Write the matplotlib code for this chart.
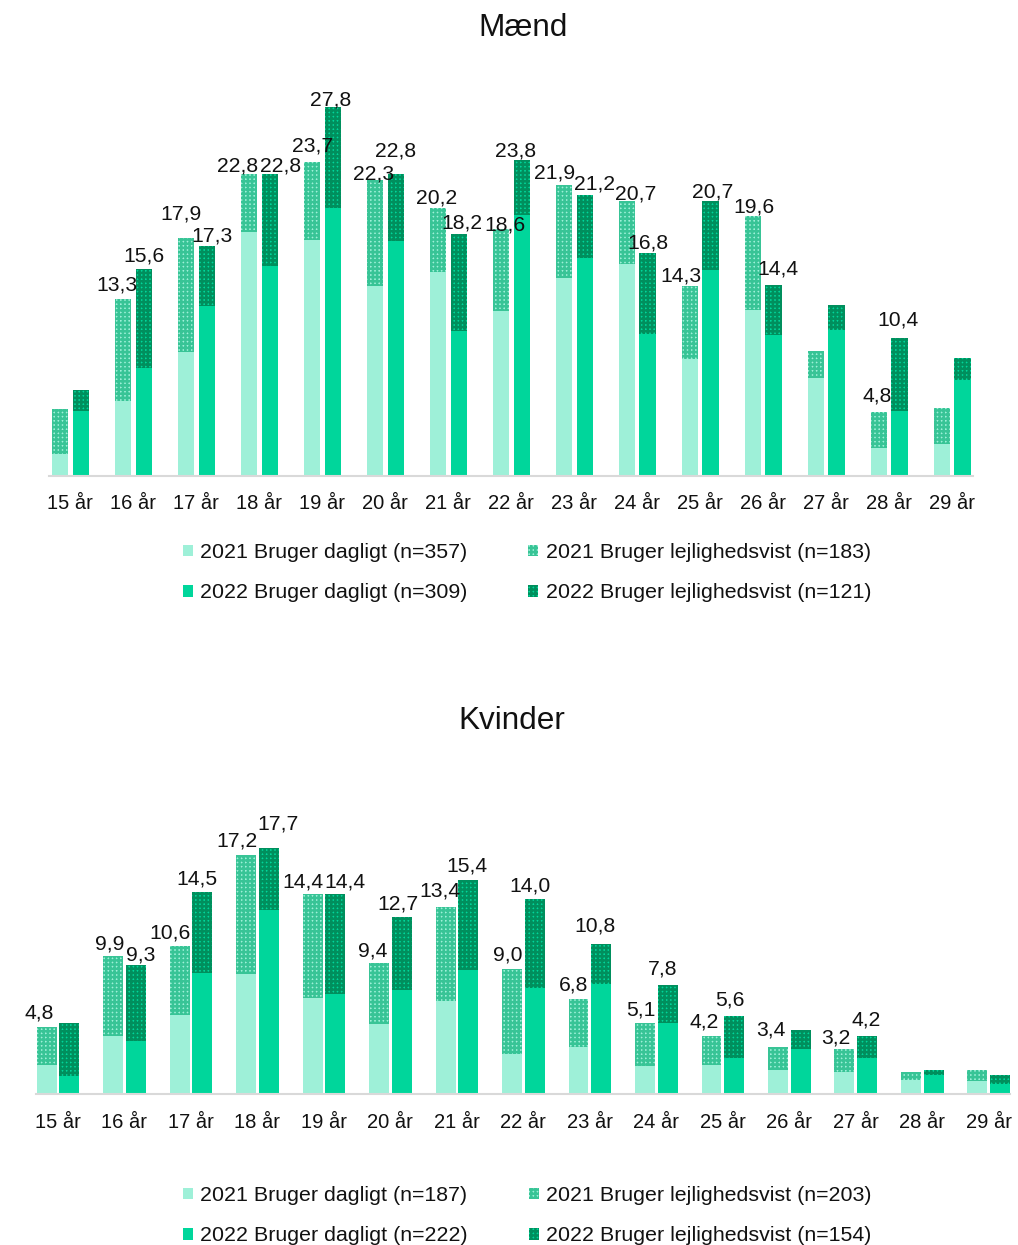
import matplotlib
matplotlib.use('Agg')
import matplotlib.pyplot as plt
import numpy as np

plt.rcParams['font.family'] = ['Liberation Sans', 'DejaVu Sans']
plt.rcParams['hatch.linewidth'] = 1.8

ages = ["15 år", "16 år", "17 år", "18 år", "19 år", "20 år", "21 år", "22 år",
        "23 år", "24 år", "25 år", "26 år", "27 år", "28 år", "29 år"]

# Mænd
m21_daily = [1.6, 5.6, 9.3, 18.4, 17.8, 14.3, 15.4, 12.4, 14.9, 16.0, 8.8, 12.5, 7.4, 2.1, 2.4]
m21_occ   = [3.4, 7.7, 8.6, 4.4, 5.9, 8.0, 4.8, 6.2, 7.0, 4.7, 5.5, 7.1, 2.0, 2.7, 2.7]
m22_daily = [4.9, 8.1, 12.8, 15.8, 20.2, 17.7, 10.9, 19.7, 16.4, 10.7, 15.5, 10.6, 11.0, 4.9, 7.2]
m22_occ   = [1.6, 7.5, 4.5, 7.0, 7.6, 5.1, 7.3, 4.1, 4.8, 6.1, 5.2, 3.8, 1.9, 5.5, 1.7]
m21_show  = [0, 1, 1, 1, 1, 1, 1, 1, 1, 1, 1, 1, 0, 1, 0]
m22_show  = [0, 1, 1, 1, 1, 1, 1, 1, 1, 1, 1, 1, 0, 1, 0]
m_legend = ["2021 Bruger dagligt (n=357)", "2021 Bruger lejlighedsvist (n=183)",
            "2022 Bruger dagligt (n=309)", "2022 Bruger lejlighedsvist (n=121)"]

# Kvinder
k21_daily = [2.1, 4.2, 5.7, 8.6, 6.9, 5.0, 6.7, 2.9, 3.4, 2.0, 2.1, 1.7, 1.6, 1.0, 0.9]
k21_occ   = [2.7, 5.7, 4.9, 8.6, 7.5, 4.4, 6.7, 6.1, 3.4, 3.1, 2.1, 1.7, 1.6, 0.6, 0.8]
k22_daily = [1.3, 3.8, 8.7, 13.2, 7.2, 7.5, 8.9, 7.6, 7.9, 5.1, 2.6, 3.2, 2.6, 1.4, 0.7]
k22_occ   = [3.8, 5.5, 5.8, 4.5, 7.2, 5.2, 6.5, 6.4, 2.9, 2.7, 3.0, 1.4, 1.6, 0.3, 0.7]
k21_show  = [1, 1, 1, 1, 1, 1, 1, 1, 1, 1, 1, 1, 1, 0, 0]
k22_show  = [0, 1, 1, 1, 1, 1, 1, 1, 1, 1, 1, 0, 1, 0, 0]
k_legend = ["2021 Bruger dagligt (n=187)", "2021 Bruger lejlighedsvist (n=203)",
            "2022 Bruger dagligt (n=222)", "2022 Bruger lejlighedsvist (n=154)"]

# label placement nudges (pixels): horizontal shift and gap above bar top
m21_dx  = [0, -6, -5, -11, 1, -1, -1, 4, -9, 9, -9, 1, 0, -2, 0]
m21_gap = [0, 8, 18, 1, 9, 0, 3, -2, 6, 1, 4, 2, 0, 10, 0]
m22_dx  = [0, 0, 5, 11, -2, 0, 3, -6, 10, 0, 2, 4, 0, -2, 0]
m22_gap = [0, 6, 4, 1, 1, 16, 5, 3, 4, 4, 3, 9, 0, 11, 0]
k21_dx  = [-7, -3, -10, -9, -10, -6, -6, -4, -5, -4, -7, -7, -9, 0, 0]
k21_gap = [8, 6, 7, 7, 5, 6, 10, 7, 8, 6, 7, 10, 5, 0, 0]
k22_dx  = [0, 5, -5, 9, 10, -4, -1, -5, -6, -5, -4, 0, -1, 0, 0]
k22_gap = [0, 3, 7, 17, 5, 7, 7, 7, 11, 10, 10, 0, 9, 0, 0]

C21 = '#9ef0d8'
C21_H = '#38c496'
C22 = '#00d69b'
C22_H = '#008f5d'
TXT = '#111111'

fig = plt.figure(figsize=(10.18, 12.45), dpi=100)


def panel(ax, d21, o21, d22, o22, s21, s22, dx21, g21, dx22, g22, off, width, xlim, ylim):
    x = np.arange(len(ages))
    d21 = np.array(d21); o21 = np.array(o21)
    d22 = np.array(d22); o22 = np.array(o22)
    b1 = ax.bar(x - off, d21, width, color=C21, linewidth=0)
    b2 = ax.bar(x - off, o21, width, bottom=d21, facecolor=C21, edgecolor=C21_H,
                hatch='++++', linewidth=0)
    b3 = ax.bar(x + off, d22, width, color=C22, linewidth=0)
    b4 = ax.bar(x + off, o22, width, bottom=d22, facecolor=C22, edgecolor=C22_H,
                hatch='++++', linewidth=0)
    for xs, tot, show, dxs, gaps in ((x - off, d21 + o21, s21, dx21, g21),
                                     (x + off, d22 + o22, s22, dx22, g22)):
        for xi, t, s, dx, g in zip(xs, tot, show, dxs, gaps):
            if s:
                ax.annotate(f"{t:.1f}".replace('.', ','), (xi, t), xytext=(dx, g + 1),
                            textcoords='offset pixels', ha='center', va='baseline',
                            fontsize=15.2, color=TXT)
    ax.set_xlim(*xlim)
    ax.set_ylim(*ylim)
    ax.set_xticks(x)
    ax.set_xticklabels(ages, fontsize=14.5, color=TXT)
    ax.tick_params(axis='x', length=0, pad=13.5)
    ax.set_yticks([])
    for s in ('top', 'right', 'left'):
        ax.spines[s].set_visible(False)
    ax.spines['bottom'].set_color('#d9d9d9')
    ax.spines['bottom'].set_linewidth(1.5)
    return [b1, b3, b2, b4]


ax1 = fig.add_axes([49 / 1018, 1 - 475.7 / 1245, 924 / 1018, (475.7 - 90) / 1245])
h1 = panel(ax1, m21_daily, m21_occ, m22_daily, m22_occ, m21_show, m22_show,
           m21_dx, m21_gap, m22_dx, m22_gap,
           0.165, 0.26, (-0.34, 14.33), (0, 29.1))
ax2 = fig.add_axes([36 / 1018, 1 - 1094 / 1245, 974 / 1018, (1094 - 810) / 1245])
h2 = panel(ax2, k21_daily, k21_occ, k22_daily, k22_occ, k21_show, k22_show,
           k21_dx, k21_gap, k22_dx, k22_gap,
           0.17, 0.30, (-0.33, 14.32), (0, 20.4))

fig.text(523 / 1018, 1 - 28 / 1245, "Mænd", ha='center', va='center', fontsize=22.7, color=TXT)
fig.text(512 / 1018, 1 - 721 / 1245, "Kvinder", ha='center', va='center', fontsize=22.7, color=TXT)

for h, labs, top in ((h1, m_legend, 543), (h2, k_legend, 1186)):
    order_labels = [labs[0], labs[2], labs[1], labs[3]]
    fig.legend(h, order_labels, ncol=2, loc='upper left',
               bbox_to_anchor=(183 / 1018, 1 - top / 1245), frameon=False,
               fontsize=15.4, handlelength=0.47, handleheight=0.47, handletextpad=0.33,
               columnspacing=2.85, labelspacing=1.0, borderpad=0, borderaxespad=0,
               labelcolor=TXT)

fig.savefig('out.png', dpi=100)
